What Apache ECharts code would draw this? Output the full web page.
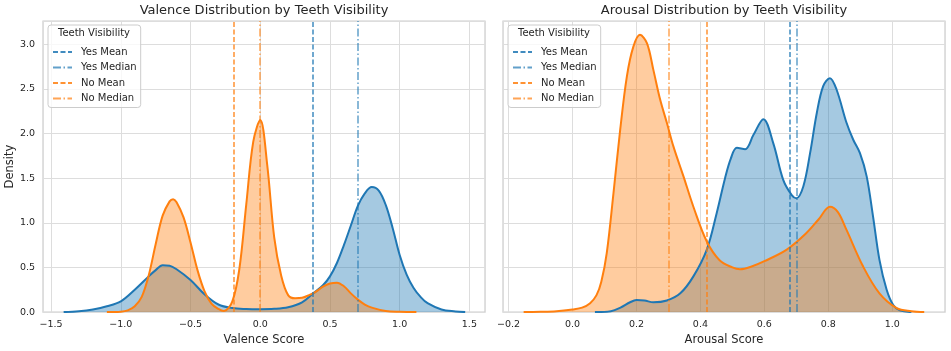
<!DOCTYPE html>
<html>
<head>
    <meta charset="utf-8">
    <title>Teeth Visibility KDE</title>
    <script src="https://cdn.jsdelivr.net/npm/echarts@6/dist/echarts.min.js"></script>
    <style>
        html, body { margin: 0; padding: 0; background: #fff; }
        #main { width: 951px; height: 351px; }
    </style>
</head>
<body>
<div id="main"></div>
<script type="text/javascript">
    // density curves, [score, density]
    var valenceYes = [
        [-1.41, 0], [-1.3, 0.01], [-1.2, 0.03], [-1.1, 0.065], [-1.0, 0.12], [-0.9, 0.25],
        [-0.8, 0.40], [-0.75, 0.47], [-0.7, 0.525], [-0.65, 0.52], [-0.6, 0.48], [-0.5, 0.36],
        [-0.4, 0.2], [-0.3, 0.085], [-0.2, 0.045], [-0.1, 0.035], [0, 0.033], [0.1, 0.037],
        [0.2, 0.055], [0.3, 0.11], [0.38, 0.21], [0.45, 0.3], [0.5, 0.4], [0.55, 0.55],
        [0.6, 0.75], [0.65, 0.97], [0.7, 1.19], [0.75, 1.33], [0.8, 1.40], [0.85, 1.36],
        [0.9, 1.2], [0.95, 0.94], [1.0, 0.64], [1.05, 0.42], [1.1, 0.27], [1.15, 0.17],
        [1.2, 0.1], [1.3, 0.03], [1.4, 0.008], [1.47, 0]
    ];
    var valenceNo = [
        [-1.1, 0], [-1.0, 0.005], [-0.95, 0.02], [-0.9, 0.065], [-0.85, 0.17], [-0.8, 0.41],
        [-0.75, 0.76], [-0.7, 1.08], [-0.65, 1.24], [-0.625, 1.265], [-0.6, 1.23], [-0.55, 1.06],
        [-0.5, 0.78], [-0.45, 0.47], [-0.4, 0.235], [-0.35, 0.095], [-0.3, 0.035], [-0.26, 0.012],
        [-0.2, 0.12], [-0.15, 0.48], [-0.1, 1.21], [-0.05, 1.91], [0, 2.15], [0.05, 1.65],
        [0.1, 0.84], [0.15, 0.41], [0.2, 0.19], [0.25, 0.155], [0.3, 0.16], [0.35, 0.19],
        [0.4, 0.23], [0.45, 0.285], [0.5, 0.32], [0.55, 0.33], [0.6, 0.29], [0.65, 0.21],
        [0.7, 0.14], [0.75, 0.085], [0.8, 0.05], [0.9, 0.012], [1.0, 0.003], [1.12, 0]
    ];
    var arousalYes = [
        [0.07, 0], [0.12, 0.01], [0.15, 0.05], [0.18, 0.11], [0.2, 0.135], [0.225, 0.13],
        [0.253, 0.11], [0.295, 0.13], [0.337, 0.21], [0.378, 0.40], [0.42, 0.70], [0.451, 1.11],
        [0.477, 1.5], [0.495, 1.72], [0.514, 1.84], [0.54, 1.825], [0.566, 1.985], [0.597, 2.16],
        [0.628, 1.89], [0.659, 1.48], [0.6855, 1.31], [0.70, 1.275], [0.722, 1.41], [0.743, 1.78],
        [0.764, 2.23], [0.784, 2.53], [0.805, 2.62], [0.826, 2.49], [0.857, 2.12], [0.878, 1.93],
        [0.899, 1.78], [0.92, 1.52], [0.94, 1.07], [0.96, 0.585], [0.9825, 0.25], [1.003, 0.08],
        [1.024, 0.02], [1.06, 0]
    ];
    var arousalNo = [
        [-0.153, 0], [-0.1, 0.003], [-0.05, 0.01], [0, 0.03], [0.03, 0.05], [0.055, 0.10],
        [0.075, 0.19], [0.09, 0.34], [0.107, 0.66], [0.128, 1.33], [0.149, 2.04], [0.17, 2.64],
        [0.19, 2.97], [0.211, 3.105], [0.233, 3.01], [0.253, 2.71], [0.274, 2.38], [0.295, 2.12],
        [0.316, 1.85], [0.347, 1.52], [0.378, 1.18], [0.42, 0.79], [0.46, 0.58], [0.5, 0.5],
        [0.524, 0.48], [0.56, 0.51], [0.6, 0.57], [0.67, 0.70], [0.73, 0.88], [0.77, 1.04],
        [0.805, 1.18], [0.83, 1.12], [0.857, 0.92], [0.909, 0.51], [0.96, 0.21], [1.014, 0.045],
        [1.06, 0.01], [1.10, 0]
    ];

    // mean / median lines
    var statNames = ['Yes Mean', 'Yes Median', 'No Mean', 'No Median'];
    var valenceStats = [0.378, 0.70, -0.19, 0.0];
    var arousalStats = [0.678, 0.697, 0.42, 0.30];

    var BLUE = '#1f77b4', ORANGE = '#ff7f0e', TXT = '#262626';
    var FONT = 'DejaVu Sans';
    var statColor = [BLUE, BLUE, ORANGE, ORANGE];
    var statDash = [[5, 2.5], [8, 2.5, 1.5, 2.5], [5, 2.5], [8, 2.5, 1.5, 2.5]];
    var statAlpha = [0.85, 0.7, 0.85, 0.7];

    function tickFmt(step) {
        return function (v) {
            if (Math.abs(v / step - Math.round(v / step)) > 1e-6) return '';
            var s = Math.abs(v).toFixed(1);
            return (v < -1e-9 ? '\u2212' : '') + s;
        };
    }

    function kde(name, data, color, idx) {
        return {
            name: name, type: 'line', xAxisIndex: idx, yAxisIndex: idx,
            data: data, symbol: 'none', smooth: 0.35,
            lineStyle: { color: color, width: 2 },
            itemStyle: { color: color },
            areaStyle: { color: color, opacity: 0.4 },
            silent: true, z: 2
        };
    }

    function statSeries(i, value, idx) {
        var ls = { color: statColor[i], width: 1.5, type: statDash[i], opacity: statAlpha[i] };
        return {
            name: statNames[i], type: 'line', xAxisIndex: idx, yAxisIndex: idx,
            data: [], symbol: 'none', lineStyle: ls, itemStyle: { color: statColor[i] },
            markLine: {
                silent: true, symbol: ['none', 'none'], label: { show: false },
                lineStyle: ls, data: [{ xAxis: value }]
            },
            z: 3
        };
    }

    var series = [
        kde('Yes', valenceYes, BLUE, 0),
        kde('No', valenceNo, ORANGE, 0),
        kde('Yes', arousalYes, BLUE, 1),
        kde('No', arousalNo, ORANGE, 1)
    ];
    for (var i = 0; i < statNames.length; i++) {
        series.push(statSeries(i, valenceStats[i], 0));
        series.push(statSeries(i, arousalStats[i], 1));
    }

    function legendAt(left) {
        return {
            left: left, top: 25, orient: 'vertical',
            data: statNames, itemWidth: 19, itemHeight: 12, itemGap: 5.5,
            padding: [22, 4, 4, 4],
            backgroundColor: 'rgba(255,255,255,0.8)',
            borderColor: '#cccccc', borderWidth: 1, borderRadius: 3,
            selectedMode: false,
            itemStyle: { opacity: 0, borderWidth: 0 },
            textStyle: { fontSize: 10, color: TXT, fontFamily: FONT, padding: [0, 0, 0, 4] }
        };
    }

    function xAx(idx, min, max, split, step, name) {
        return {
            type: 'value', gridIndex: idx, min: min, max: max, splitNumber: split,
            name: name, nameLocation: 'middle', nameGap: 19,
            nameTextStyle: { fontSize: 11.5, color: TXT, fontFamily: FONT },
            axisLine: { show: false }, axisTick: { show: false },
            axisLabel: { formatter: tickFmt(step), fontSize: 9.5, color: TXT, fontFamily: FONT, margin: 7 },
            splitLine: { lineStyle: { color: '#dddddd', width: 1 } }
        };
    }

    function yAx(idx, showLabels) {
        return {
            type: 'value', gridIndex: idx, min: 0, max: 3.26, splitNumber: 6,
            name: showLabels ? 'Density' : '', nameLocation: 'middle', nameGap: 21,
            nameTextStyle: { fontSize: 11.5, color: TXT, fontFamily: FONT },
            axisLine: { show: false }, axisTick: { show: false },
            axisLabel: { show: showLabels, formatter: tickFmt(0.5), fontSize: 9.5, color: TXT, fontFamily: FONT, margin: 8 },
            splitLine: { lineStyle: { color: '#dddddd', width: 1 } }
        };
    }

    var myChart = echarts.init(document.getElementById('main'));
    var option = {
        backgroundColor: '#ffffff',
        animation: false,
        title: [
            { text: 'Valence Distribution by Teeth Visibility', left: 264, top: 4, textAlign: 'center', padding: 0,
              textStyle: { fontSize: 13, fontWeight: 'normal', color: TXT, fontFamily: FONT } },
            { text: 'Arousal Distribution by Teeth Visibility', left: 724, top: 4, textAlign: 'center', padding: 0,
              textStyle: { fontSize: 13, fontWeight: 'normal', color: TXT, fontFamily: FONT } },
            { text: 'Teeth Visibility', left: 94, top: 28, textAlign: 'center', padding: 0,
              textStyle: { fontSize: 10, fontWeight: 'normal', color: TXT, fontFamily: FONT } },
            { text: 'Teeth Visibility', left: 554, top: 28, textAlign: 'center', padding: 0,
              textStyle: { fontSize: 10, fontWeight: 'normal', color: TXT, fontFamily: FONT } }
        ],
        legend: [legendAt(48), legendAt(508)],
        grid: [
            { left: 43, top: 21, width: 442, height: 292, show: true, borderColor: '#cccccc', borderWidth: 1.2 },
            { left: 503, top: 21, width: 442, height: 292, show: true, borderColor: '#cccccc', borderWidth: 1.2 }
        ],
        xAxis: [
            xAx(0, -1.558, 1.612, 6, 0.5, 'Valence Score'),
            xAx(1, -0.2175, 1.165, 7, 0.2, 'Arousal Score')
        ],
        yAxis: [yAx(0, true), yAx(1, false)],
        series: series
    };
    myChart.setOption(option);
</script>
</body>
</html>
